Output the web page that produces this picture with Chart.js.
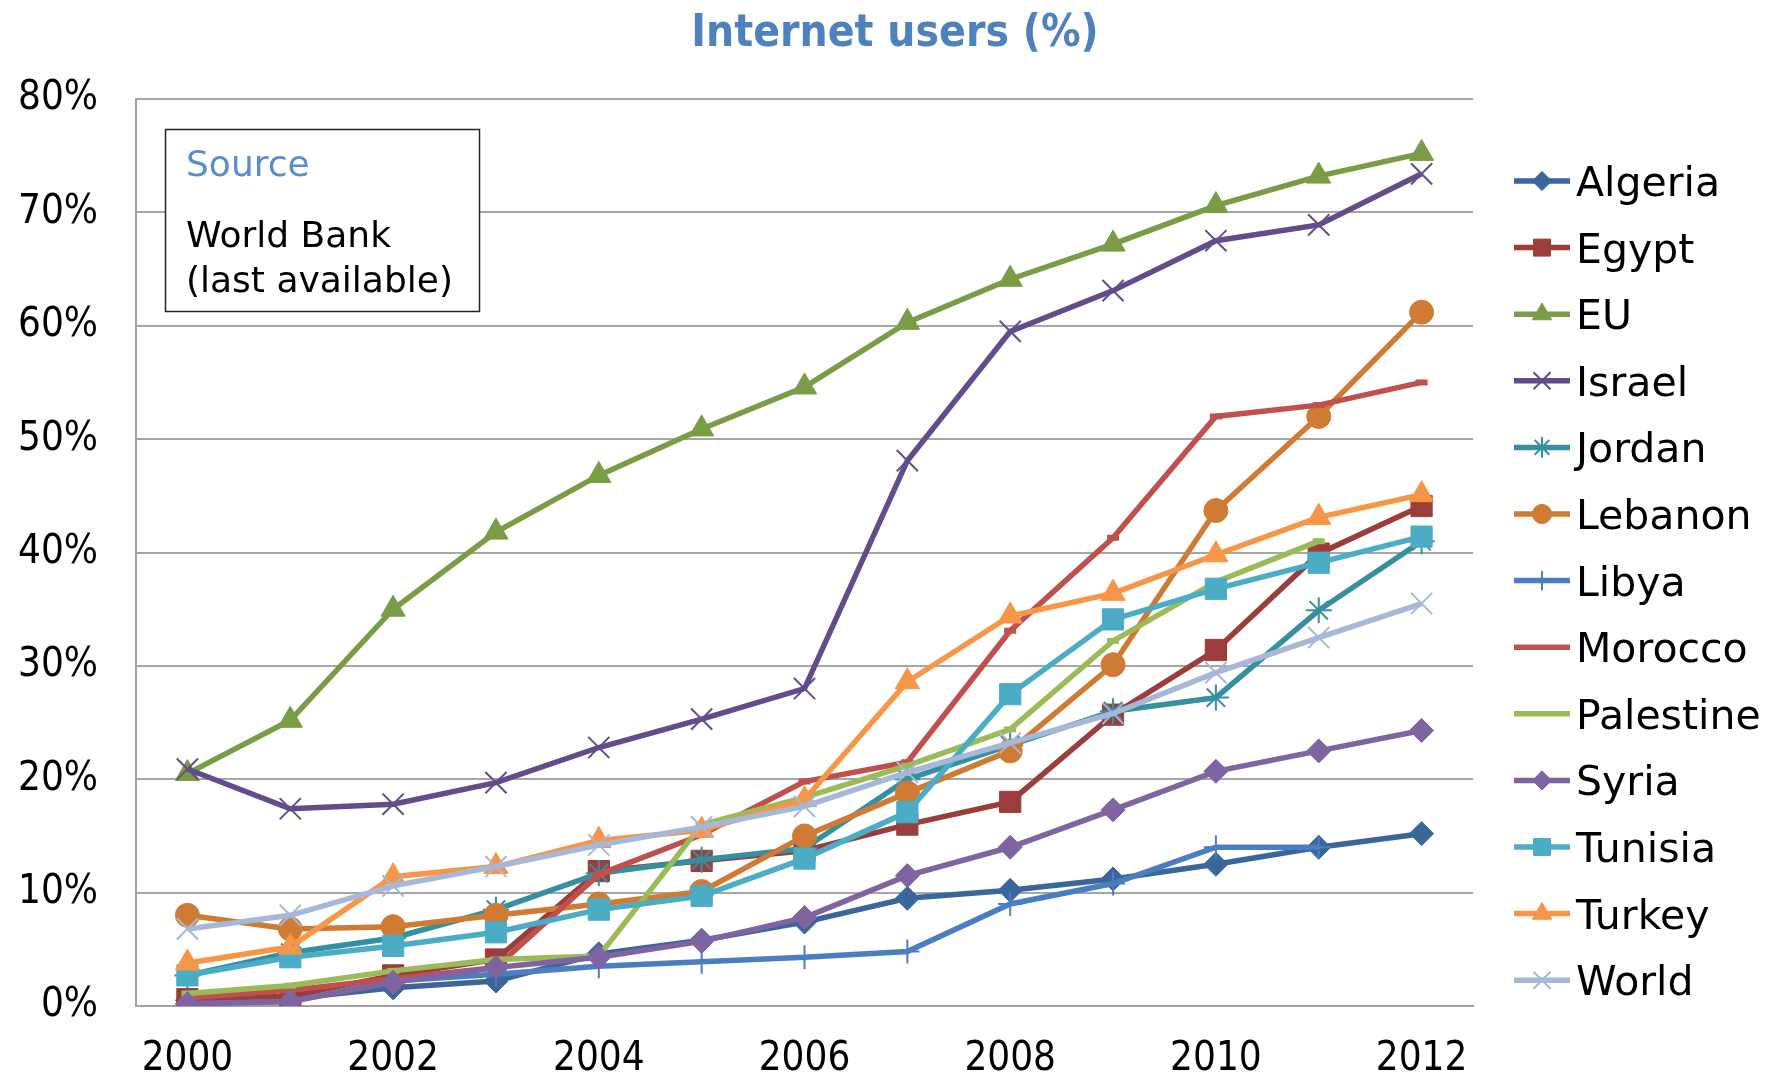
<!DOCTYPE html>
<html>
<head>
<meta charset="utf-8">
<script src="https://cdn.jsdelivr.net/npm/chart.js@4.4.1/dist/chart.umd.min.js"></script>
<style>
    html, body { margin: 0; padding: 0; background: #fff; }
</style>
</head>
<body>
<canvas id="lineChart" width="1771" height="1081"></canvas>
<script>
// Data
const years = ['2000', '2001', '2002', '2003', '2004', '2005', '2006', '2007', '2008', '2009', '2010', '2011', '2012'];
const yTicks = [0, 10, 20, 30, 40, 50, 60, 70, 80];

const algeria   = [0.5, 0.65, 1.6, 2.2, 4.6, 5.8, 7.4, 9.5, 10.2, 11.2, 12.5, 14.0, 15.2];
const egypt     = [0.6, 0.85, 2.7, 4.1, 11.9, 12.8, 13.7, 16.0, 18.0, 25.7, 31.4, 39.9, 44.1];
const eu        = [20.5, 25.2, 35.0, 41.8, 46.8, 50.9, 54.6, 60.3, 64.1, 67.2, 70.6, 73.2, 75.2];
const israel    = [20.9, 17.4, 17.8, 19.7, 22.8, 25.3, 28.0, 48.1, 59.5, 63.1, 67.5, 68.9, 73.4];
const jordan    = [2.7, 4.7, 6.0, 8.5, 11.7, 12.9, 13.9, 20.0, 23.0, 26.0, 27.2, 34.9, 41.0];
const lebanon   = [8.0, 6.8, 7.0, 8.0, 9.0, 10.1, 15.0, 18.8, 22.5, 30.1, 43.7, 52.0, 61.2];
const libya     = [0.2, 0.4, 2.2, 2.8, 3.5, 3.9, 4.3, 4.8, 9.0, 10.8, 14.0, 14.0, null];
const morocco   = [0.7, 1.4, 2.4, 3.4, 11.6, 15.1, 19.8, 21.5, 33.1, 41.3, 52.0, 53.0, 55.0];
const palestine = [1.1, 1.8, 3.1, 4.1, 4.4, 16.0, 18.4, 21.2, 24.4, 32.2, 37.4, 41.0, null];
const syria     = [0.2, 0.4, 2.1, 3.4, 4.3, 5.7, 7.8, 11.5, 14.0, 17.3, 20.7, 22.5, 24.3];
const tunisia   = [2.7, 4.3, 5.3, 6.5, 8.5, 9.7, 13.0, 17.1, 27.5, 34.1, 36.8, 39.1, 41.4];
const turkey    = [3.8, 5.2, 11.4, 12.3, 14.6, 15.5, 18.2, 28.6, 34.4, 36.4, 39.8, 43.1, 45.1];
const world     = [6.8, 8.0, 10.6, 12.3, 14.2, 15.8, 17.6, 20.6, 23.2, 25.8, 29.4, 32.5, 35.5];

const series = [
    { label: 'Algeria',   data: algeria,   color: '#3A6699', style: 'rectRot',  r: 12, bw: 1 },
    { label: 'Egypt',     data: egypt,     color: '#9B3D3B', style: 'rect',     r: 15, bw: 1 },
    { label: 'EU',        data: eu,        color: '#7A9C45', style: 'triangle', r: 14, bw: 1 },
    { label: 'Israel',    data: israel,    color: '#624C8A', style: 'crossRot', r: 15, bw: 2 },
    { label: 'Jordan',    data: jordan,    color: '#34909F', style: 'star',     r: 13, bw: 2 },
    { label: 'Lebanon',   data: lebanon,   color: '#D07B33', style: 'circle',   r: 12, bw: 1 },
    { label: 'Libya',     data: libya,     color: '#4A7EC0', style: 'cross',    r: 12, bw: 2 },
    { label: 'Morocco',   data: morocco,   color: '#C0504D', style: 'line',     r: 6,  bw: 6 },
    { label: 'Palestine', data: palestine, color: '#9BBB59', style: 'line',     r: 6,  bw: 6 },
    { label: 'Syria',     data: syria,     color: '#8064A2', style: 'rectRot',  r: 12, bw: 1 },
    { label: 'Tunisia',   data: tunisia,   color: '#4BACC6', style: 'rect',     r: 15, bw: 1 },
    { label: 'Turkey',    data: turkey,    color: '#F79646', style: 'triangle', r: 14, bw: 1 },
    { label: 'World',     data: world,     color: '#A6B8D8', style: 'crossRot', r: 15, bw: 2 }
];

const tickFont = '"DejaVu Sans Condensed", "DejaVu Sans", sans-serif';
const textFont = '"DejaVu Sans", sans-serif';

// Title, source box and legend drawn on top of the chart
const extras = {
    id: 'extras',
    afterDraw(chart) {
        const ctx = chart.ctx;
        ctx.save();

        // title
        ctx.fillStyle = '#4F81BD';
        ctx.font = 'bold 44px "DejaVu Sans Condensed", "DejaVu Sans", sans-serif';
        ctx.textAlign = 'center';
        ctx.textBaseline = 'alphabetic';
        ctx.fillText('Internet users (%)', 895, 46);

        // source box
        ctx.fillStyle = '#fff';
        ctx.strokeStyle = '#222';
        ctx.lineWidth = 1.5;
        ctx.fillRect(165.5, 129.5, 314, 182);
        ctx.strokeRect(165.5, 129.5, 314, 182);
        ctx.textAlign = 'left';
        ctx.font = '36px ' + textFont;
        ctx.fillStyle = '#5B8CCB';
        ctx.fillText('Source', 186, 176);
        ctx.fillStyle = '#000';
        ctx.fillText('World Bank', 186, 247);
        ctx.fillText('(last available)', 186, 292);

        // legend
        chart.data.datasets.forEach((ds, i) => {
            const y = 181 + i * 66.6;
            ctx.strokeStyle = ds.borderColor;
            ctx.fillStyle = ds.borderColor;
            ctx.lineWidth = 5.5;
            ctx.beginPath();
            ctx.moveTo(1514, y);
            ctx.lineTo(1570, y);
            ctx.stroke();
            if (ds.pointStyle !== 'line' && Chart.helpers && Chart.helpers.drawPoint) {
                ctx.lineWidth = ds.pointBorderWidth;
                Chart.helpers.drawPoint(ctx, {
                    pointStyle: ds.pointStyle,
                    radius: ds.pointRadius * 0.8,
                    borderWidth: ds.pointBorderWidth,
                    rotation: 0
                }, 1542, y);
            }
            ctx.fillStyle = '#000';
            ctx.font = '41px ' + textFont;
            ctx.textAlign = 'left';
            ctx.fillText(ds.label, 1576, y + 15);
        });
        ctx.restore();
    }
};

const ctx = document.getElementById('lineChart').getContext('2d');
const lineChart = new Chart(ctx, {
    type: 'line',
    data: {
        labels: years,
        datasets: series.map((s, i) => ({
            label: s.label,
            data: s.data,
            borderColor: s.color,
            backgroundColor: s.color,
            borderWidth: 5.5,
            pointStyle: s.style,
            pointRadius: s.r,
            pointBorderWidth: s.bw,
            pointBackgroundColor: s.color,
            pointBorderColor: s.color,
            tension: 0,
            spanGaps: false,
            order: series.length - i // later series drawn on top, as in Excel
        }))
    },
    options: {
        responsive: false,
        devicePixelRatio: 1,
        animation: false,
        layout: { padding: { left: 18, right: 298, top: 99, bottom: 0 } },
        plugins: {
            legend: { display: false },
            title: { display: false },
            tooltip: { enabled: false }
        },
        scales: {
            x: {
                offset: true,
                grid: { display: false, drawTicks: false },
                border: { display: true, color: '#A0A0A0', width: 2 },
                ticks: {
                    autoSkip: false,
                    maxRotation: 0,
                    padding: 30,
                    color: '#000',
                    font: { family: tickFont, size: 40 },
                    callback: function (val, i) {
                        return i % 2 === 0 ? this.getLabelForValue(val) : '';
                    }
                },
                afterFit: (scale) => { scale.height = 75; }
            },
            y: {
                min: yTicks[0],
                max: yTicks[yTicks.length - 1],
                afterBuildTicks: (scale) => { scale.ticks = yTicks.map(v => ({ value: v })); },
                grid: { color: '#A6A6A6', lineWidth: 2, drawTicks: false },
                border: { display: true, color: '#A0A0A0', width: 2 },
                ticks: {
                    padding: 38,
                    color: '#000',
                    font: { family: tickFont, size: 40 },
                    callback: v => v + '%'
                },
                afterFit: (scale) => { scale.width = 118; }
            }
        }
    },
    plugins: [extras]
});
</script>
</body>
</html>
